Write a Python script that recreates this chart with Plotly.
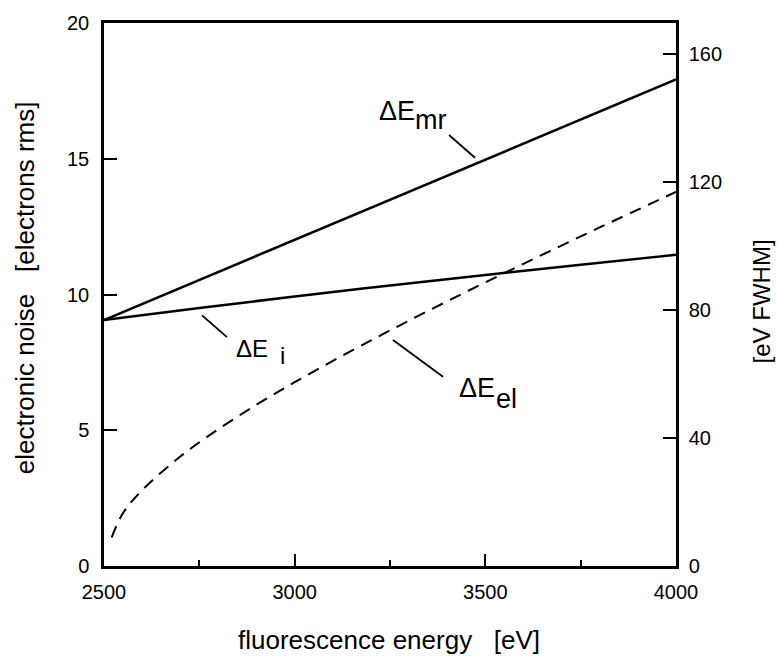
import plotly.graph_objects as go

# ---- data ----
energy_mr = [2500, 4000]
noise_mr = [9.06, 17.92]

energy_i = [2500, 2750, 3000, 3250, 3500, 3750, 4000]
noise_i = [9.06, 9.50, 9.93, 10.33, 10.72, 11.10, 11.46]

energy_el = [2520, 2550, 2600, 2700, 2800, 2900, 3000, 3200, 3400, 3600, 3800, 4000]
noise_el = [1.05, 1.95, 2.79, 4.03, 5.04, 5.94, 6.77, 8.31, 9.75, 11.13, 12.47, 13.78]

x_ticks = [2500, 3000, 3500, 4000]
x_minor_ticks = [2750, 3250, 3750]
y_left_ticks = [0, 5, 10, 15, 20]
y_right_ticks = [0, 40, 80, 120, 160]

FONT = "Liberation Sans, Arial, Helvetica, sans-serif"
W, H = 778, 656
L, R, T, B = 104, 102, 18, 90
PW, PH = W - L - R, H - T - B

def px(x):
    return (x - L) / PW

def py(y):
    return (H - B - y) / PH

fig = go.Figure()
line_style = dict(color="black", width=2.5)
fig.add_trace(go.Scatter(x=energy_mr, y=noise_mr, mode="lines", line=line_style, showlegend=False))
fig.add_trace(go.Scatter(x=energy_i, y=noise_i, mode="lines", line_shape="spline", line=line_style, showlegend=False))
fig.add_trace(go.Scatter(x=energy_el, y=noise_el, mode="lines", line_shape="spline",
                         line=dict(color="black", width=2, dash="12px,8px"), showlegend=False))

axis_common = dict(showline=True, linecolor="black", linewidth=2.5, ticks="inside",
                   tickcolor="black", tickwidth=2, showgrid=False, zeroline=False,
                   tickfont=dict(family=FONT, size=20, color="black"))

fig.update_layout(
    width=W, height=H,
    margin=dict(l=L, r=R, t=T, b=B),
    paper_bgcolor="white", plot_bgcolor="white",
    font=dict(family=FONT, color="black"),
    xaxis=dict(range=[2500, 4000], tickvals=x_ticks, ticklen=12, mirror=True, ticklabelstandoff=6,
               minor=dict(tickvals=x_minor_ticks, ticklen=6, ticks="inside", tickcolor="black", tickwidth=2),
               **axis_common),
    yaxis=dict(range=[0, 20], tickvals=y_left_ticks, ticklen=13, mirror=True, ticklabelstandoff=8,
               **axis_common),
    yaxis2=dict(range=[0, 169.6], tickvals=y_right_ticks, ticklen=13, overlaying="y", side="right",
                ticklabelstandoff=6, **axis_common),
)
fig.add_trace(go.Scatter(x=[None], y=[None], yaxis="y2", showlegend=False))

nb = "\u00a0"
annotations = [
    dict(text=f"fluorescence energy{nb*3}[eV]", x=px(389), y=py(641), xanchor="center", yanchor="middle", size=26),
    dict(text=f"electronic noise{nb*3}[electrons rms]", x=px(25), y=py(476), xanchor="center", yanchor="bottom",
         size=26, angle=-90),
    dict(text="[eV FWHM]", x=px(761), y=py(299), xanchor="center", yanchor="middle", size=24, angle=-90),
    # curve labels: main part and subscript drawn at the same size, subscript lowered
    dict(text="ΔE", x=px(377), y=py(107), xanchor="left", yanchor="middle", size=27),
    dict(text="mr", x=px(413), y=py(116), xanchor="left", yanchor="middle", size=27),
    dict(text="ΔE", x=px(234), y=py(346), xanchor="left", yanchor="middle", size=24),
    dict(text="i", x=px(278), y=py(354), xanchor="left", yanchor="middle", size=24),
    dict(text="ΔE", x=px(457), y=py(386), xanchor="left", yanchor="middle", size=27),
    dict(text="el", x=px(494), y=py(397), xanchor="left", yanchor="middle", size=27),
]
for a in annotations:
    fig.add_annotation(text=a["text"], x=a["x"], y=a["y"], xref="paper", yref="paper",
                       xanchor=a["xanchor"], yanchor=a["yanchor"], showarrow=False,
                       textangle=a.get("angle", 0),
                       font=dict(family=FONT, size=a["size"], color="black"))

# leader lines from labels to curves
leaders = [((449, 131), (475, 154)), ((202, 313), (227, 335)), ((393, 338), (443, 375))]
for (x0, y0), (x1, y1) in leaders:
    fig.add_shape(type="line", xref="paper", yref="paper", x0=px(x0), y0=py(y0), x1=px(x1), y1=py(y1),
                  line=dict(color="black", width=1.8))

fig.write_html("out.html")
